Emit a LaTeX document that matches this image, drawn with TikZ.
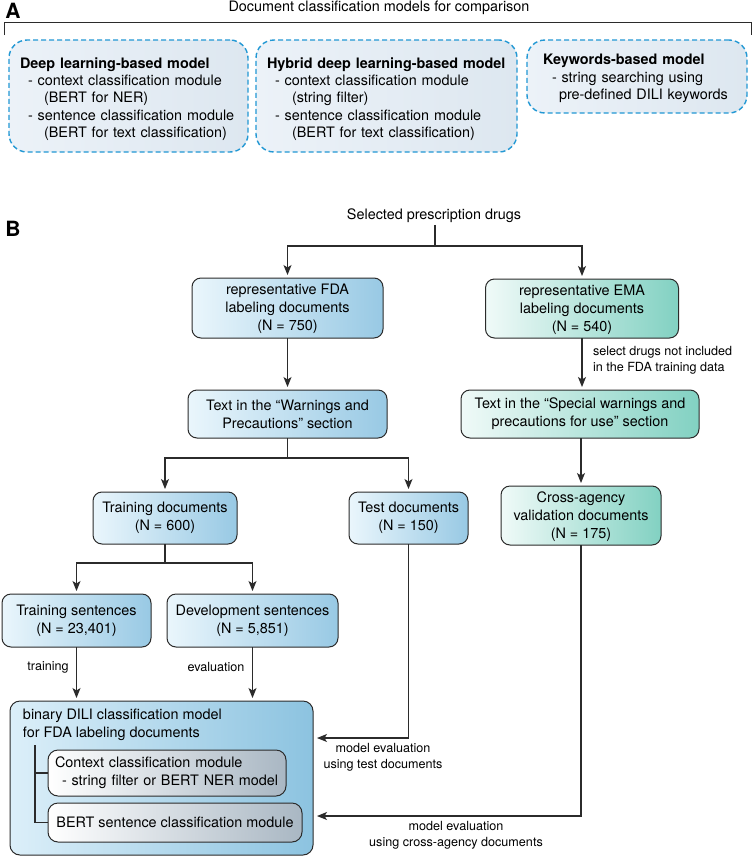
\documentclass[tikz,border=0pt]{standalone}
\usepackage{fontspec}
\setmainfont{TeX Gyre Heros}
\usetikzlibrary{arrows.meta,calc}
\definecolor{fdaL}{HTML}{EAF6FC}
\definecolor{fdaR}{HTML}{98C9E4}
\definecolor{emaL}{HTML}{F0FAF8}
\definecolor{emaR}{HTML}{82D1C2}
\definecolor{bigL}{HTML}{DCEFF9}
\definecolor{bigR}{HTML}{8CC3E0}
\definecolor{inR}{HTML}{A9B7C3}
\definecolor{dashB}{HTML}{2298D4}
\definecolor{panL}{HTML}{ECF2F8}
\definecolor{panR}{HTML}{DDE7F0}
\definecolor{lineC}{HTML}{2B2B2B}
\begin{document}
\begin{tikzpicture}[x=1pt,y=-1pt,
  every node/.style={inner sep=0pt, outer sep=0pt},
  mainf/.style={font=\fontsize{14.4}{18}\selectfont},
  labf/.style={font=\fontsize{12.6}{16}\selectfont},
  flowbox/.style={mainf, draw=lineC, line width=1pt, rounded corners=9pt, align=center},
  fdabox/.style={flowbox, left color=fdaL, right color=fdaR},
  emabox/.style={flowbox, left color=emaL, right color=emaR},
  bigbox/.style={draw=lineC, line width=1pt, rounded corners=10pt, left color=bigL, right color=bigR},
  inbox/.style={flowbox, rounded corners=10pt, left color=white, right color=inR},
  panbox/.style={draw=dashB, line width=1.4pt, dash pattern=on 5pt off 3pt, rounded corners=18pt,
    left color=panL, right color=panR, font=\fontsize{14.4}{17.3}\selectfont, align=left},
  arr/.style={draw=lineC, line width=1.1pt, shorten >=3pt, -{Stealth[length=10pt,width=8pt,inset=2.5pt]}},
  ln/.style={draw=lineC, line width=1.1pt},
  plabel/.style={font=\fontsize{21}{21}\selectfont\bfseries}
]
\fill[white] (0,0) rectangle (754,857);
\useasboundingbox (0,0) rectangle (754,857);

% ---------- Panel A ----------
\node[plabel] (la) at (13,11) {A};
\node[mainf] (ttl) at (379,8) {Document classification models for comparison};
\draw[ln, line width=1pt] (4,35) -- (4,22) -- (751,22) -- (751,35);

\node[panbox, minimum width=239pt, minimum height=112pt, text width=217pt, inner xsep=11pt] (p1) at (128.5,96)
 {\rule{0pt}{16.5pt}{\bfseries Deep learning-based model}\\
  \hspace*{8pt}- context classification module\\
  \hspace*{24pt}(BERT for NER)\\
  \hspace*{8pt}- sentence classification module\\
  \hspace*{24pt}(BERT for text classification)};
\node[panbox, minimum width=261pt, minimum height=112pt, text width=239pt, inner xsep=11pt] (p2) at (386.5,96)
 {\rule{0pt}{16.5pt}{\bfseries Hybrid deep learning-based model}\\
  \hspace*{8pt}- context classification module\\
  \hspace*{25pt}(string filter)\\
  \hspace*{8pt}- sentence classification module\\
  \hspace*{25pt}(BERT for text classification)};
\node[panbox, minimum width=220pt, minimum height=73pt, text width=188pt, inner xsep=16pt] (p3) at (637,76.5)
 {\rule{0pt}{14.5pt}{\bfseries Keywords-based model}\\
  \hspace*{9pt}- string searching using\\
  \hspace*{16pt}pre-defined DILI keywords};

% ---------- Panel B ----------
\node[plabel] (lb) at (13,229) {B};
\node[mainf, inner sep=2pt] (sel) at (434,216) {Selected prescription drugs};

\node[fdabox, minimum width=191pt, minimum height=60pt] (fda) at (287.5,308) {\rule{0pt}{13pt}representative FDA\\labeling documents\\(N = 750)};
\node[emabox, minimum width=193pt, minimum height=59pt] (ema) at (582,308.5) {\rule{0pt}{13pt}representative EMA\\labeling documents\\(N = 540)};
\node[fdabox, minimum width=199pt, minimum height=48pt] (warn) at (287.5,414) {Text in the “Warnings and\\Precautions” section};
\node[emabox, minimum width=238pt, minimum height=48pt] (spec) at (580,414) {Text in the “Special warnings and\\precautions for use” section};
\node[fdabox, minimum width=144pt, minimum height=52pt] (trd) at (165,518) {Training documents\\(N = 600)};
\node[fdabox, minimum width=119pt, minimum height=52pt] (ted) at (408.5,518) {Test documents\\(N = 150)};
\node[emabox, minimum width=160pt, minimum height=59pt] (cross) at (581,515.5) {\rule{0pt}{13pt}Cross-agency\\validation documents\\(N = 175)};
\node[fdabox, minimum width=149pt, minimum height=53pt] (trs) at (76.5,620.5) {Training sentences\\(N = 23,401)};
\node[fdabox, minimum width=171pt, minimum height=53pt] (dvs) at (252.5,620.5) {Development sentences\\(N = 5,851)};

\node[bigbox, minimum width=303pt, minimum height=154pt] (big) at (161.5,778) {};
\node[mainf, anchor=west, align=left] (bigt) at (23,725) {binary DILI classification model\\for FDA labeling documents};
\node[inbox, minimum width=238pt, minimum height=46pt, text width=224pt, inner xsep=7pt, align=left] (ctx) at (167,773)
 {Context classification module\\\hspace*{7pt}- string filter or BERT NER model};
\node[inbox, minimum width=254pt, minimum height=39pt] (bert) at (175,822.5) {BERT sentence classification module};

\coordinate (bk) at (35,745);
\draw[ln] (bk) |- (bert.west);
\draw[ln] (bk |- ctx.west) -- (ctx.west);

% connectors
\coordinate (j1) at (435,246);
\draw[ln] (sel.south -| j1) -- (j1);
\draw[arr] (j1) -| (fda.north);
\draw[arr] (j1) -| (ema.north);
\draw[arr] (fda.south) -- (warn.north);
\draw[arr] (ema.south) -- (ema.south |- spec.north);
\node[labf, anchor=west, align=left] (sl) at (593,360) {select drugs not included\\in the FDA training data};

\coordinate (j2) at (287.5,458);
\draw[ln] (warn.south) -- (j2);
\draw[arr] (j2) -| (trd.north);
\draw[arr] (j2) -| (ted.north);
\draw[arr] (cross.north |- spec.south) -- (cross.north);

\coordinate (j3) at (165,563);
\draw[ln] (trd.south) -- (j3);
\draw[arr] (j3) -| (trs.north);
\draw[arr] (j3) -| (dvs.north);

\draw[arr] (trs.south) -- (trs.south |- big.north);
\draw[arr] (dvs.south) -- (dvs.south |- big.north);
\node[labf] (ltr) at (48,667) {training};
\node[labf] (lev) at (216,667) {evaluation};

\coordinate (e1) at ([xshift=1pt, yshift=40pt]big.east);
\coordinate (e2) at ([xshift=1pt, yshift=-38pt]big.east);
\draw[arr] (ted.south) |- (e1);
\draw[arr] (cross.south) |- (e2);
\node[labf, align=center] (lt1) at (383,757) {model evaluation\\using test documents};
\node[labf, align=center] (lt2) at (456,835) {model evaluation\\using cross-agency documents};
\end{tikzpicture}
\end{document}
